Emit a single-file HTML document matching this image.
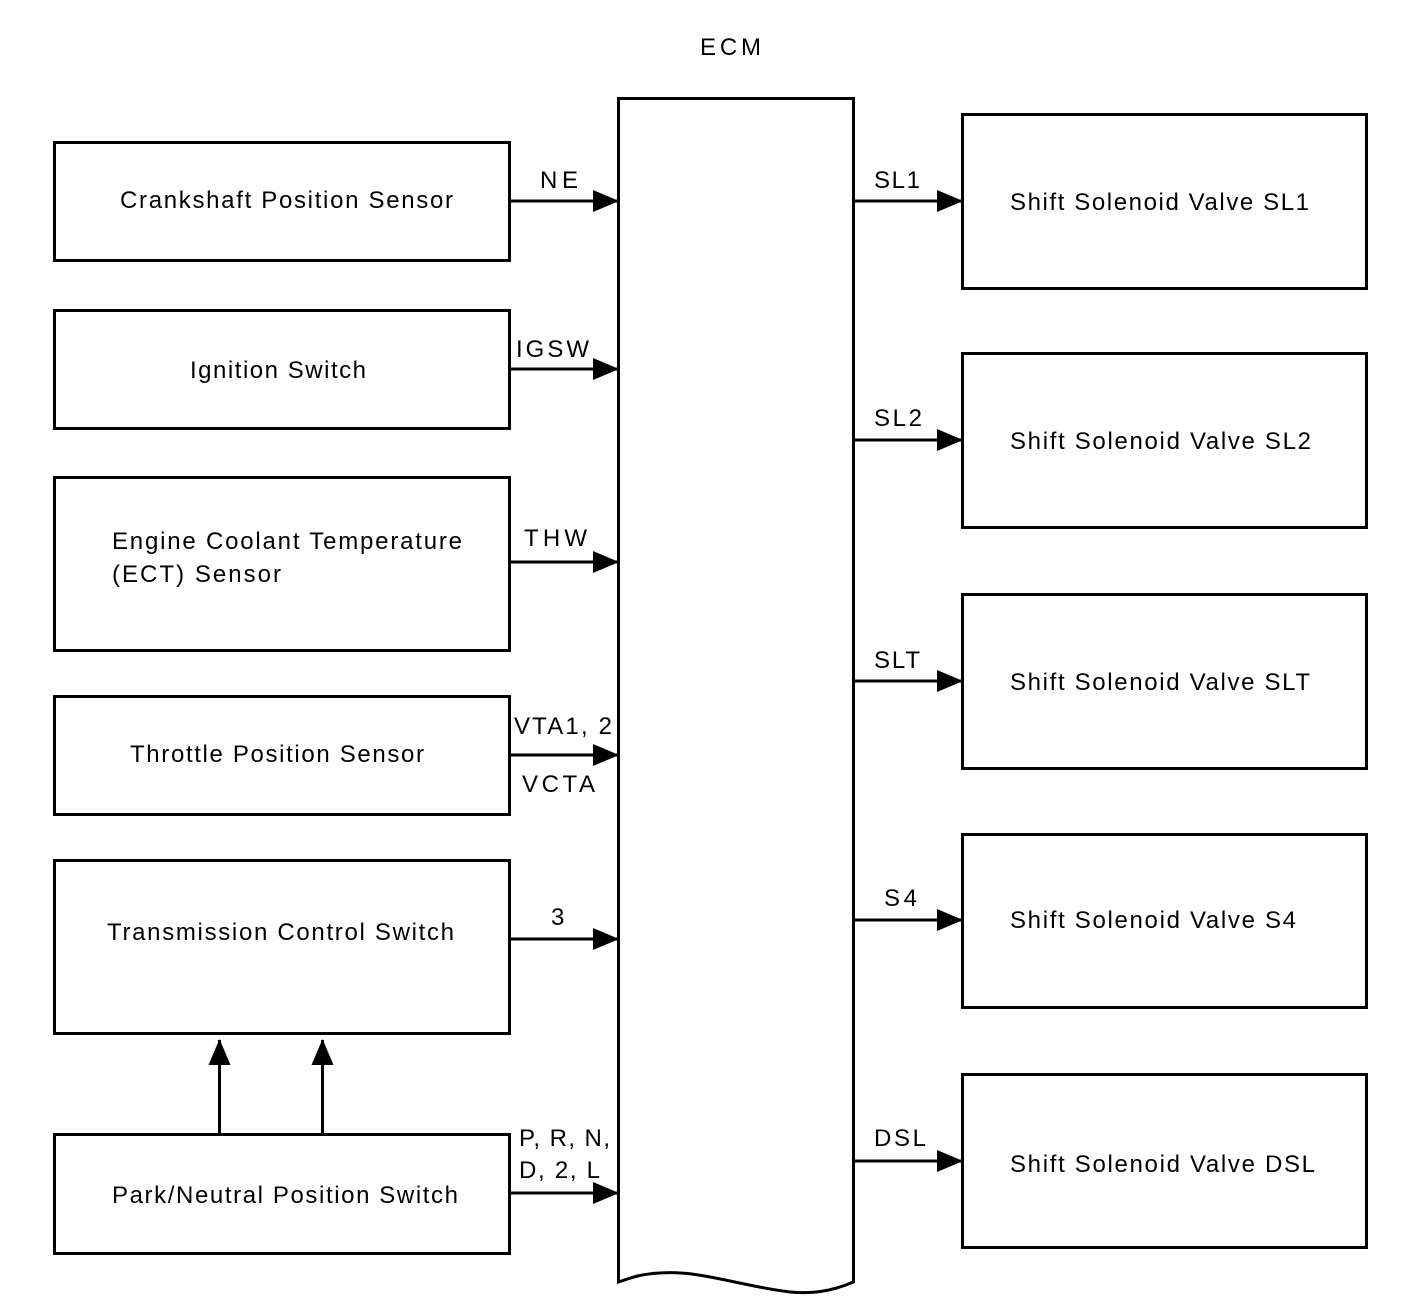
<!DOCTYPE html>
<html><head><meta charset="utf-8"><style>
html,body{margin:0;padding:0;background:#fff;}
svg{display:block;}
text{font-family:"Liberation Sans",Arial,sans-serif;font-size:24px;fill:#000;}
</style></head><body>
<svg width="1408" height="1300" viewBox="0 0 1408 1300" xmlns="http://www.w3.org/2000/svg">
<defs>
<marker id="a" markerWidth="26" markerHeight="22" refX="25" refY="11" orient="auto" markerUnits="userSpaceOnUse">
<path d="M0,0 L26,11 L0,22 Z" fill="#000"/>
</marker>
</defs>
<g fill="none" stroke="#000" stroke-width="3">
<path d="M618.5,98.5 L853.5,98.5 L853.5,1282 C830,1292 810,1294 790,1292 C740,1286 700,1270 660,1273 C640,1274 630,1278 618.5,1282 Z"/>
<rect x="54.5" y="142.5" width="455" height="118"/>
<rect x="54.5" y="310.5" width="455" height="118"/>
<rect x="54.5" y="477.5" width="455" height="173"/>
<rect x="54.5" y="696.5" width="455" height="118"/>
<rect x="54.5" y="860.5" width="455" height="173"/>
<rect x="54.5" y="1134.5" width="455" height="119"/>
<rect x="962.5" y="114.5" width="404" height="174"/>
<rect x="962.5" y="353.5" width="404" height="174"/>
<rect x="962.5" y="594.5" width="404" height="174"/>
<rect x="962.5" y="834.5" width="404" height="173"/>
<rect x="962.5" y="1074.5" width="404" height="173"/>
<line x1="509" y1="201" x2="618" y2="201" marker-end="url(#a)"/>
<line x1="509" y1="369" x2="618" y2="369" marker-end="url(#a)"/>
<line x1="509" y1="562" x2="618" y2="562" marker-end="url(#a)"/>
<line x1="509" y1="755" x2="618" y2="755" marker-end="url(#a)"/>
<line x1="509" y1="939" x2="618" y2="939" marker-end="url(#a)"/>
<line x1="509" y1="1193" x2="618" y2="1193" marker-end="url(#a)"/>
<line x1="853" y1="201" x2="962" y2="201" marker-end="url(#a)"/>
<line x1="853" y1="440" x2="962" y2="440" marker-end="url(#a)"/>
<line x1="853" y1="681" x2="962" y2="681" marker-end="url(#a)"/>
<line x1="853" y1="920" x2="962" y2="920" marker-end="url(#a)"/>
<line x1="853" y1="1161" x2="962" y2="1161" marker-end="url(#a)"/>
<line x1="219.5" y1="1134" x2="219.5" y2="1040" marker-end="url(#a)"/>
<line x1="322.5" y1="1134" x2="322.5" y2="1040" marker-end="url(#a)"/>
</g>
<g>
<text x="700" y="55" textLength="61" lengthAdjust="spacing">ECM</text>
<text x="120" y="208" textLength="333" lengthAdjust="spacing">Crankshaft Position Sensor</text>
<text x="190" y="378" textLength="176" lengthAdjust="spacing">Ignition Switch</text>
<text x="112" y="549" textLength="350" lengthAdjust="spacing">Engine Coolant Temperature</text>
<text x="112" y="582" textLength="169" lengthAdjust="spacing">(ECT) Sensor</text>
<text x="130" y="762" textLength="294" lengthAdjust="spacing">Throttle Position Sensor</text>
<text x="107" y="940" textLength="347" lengthAdjust="spacing">Transmission Control Switch</text>
<text x="112" y="1203" textLength="346" lengthAdjust="spacing">Park/Neutral Position Switch</text>
<text x="540" y="188" textLength="38" lengthAdjust="spacing">NE</text>
<text x="516" y="357" textLength="73" lengthAdjust="spacing">IGSW</text>
<text x="524" y="546" textLength="63" lengthAdjust="spacing">THW</text>
<text x="514" y="734" textLength="98" lengthAdjust="spacing">VTA1, 2</text>
<text x="522" y="792" textLength="73" lengthAdjust="spacing">VCTA</text>
<text x="551" y="925" textLength="14" lengthAdjust="spacing">3</text>
<text x="519" y="1146" textLength="91" lengthAdjust="spacing">P, R, N,</text>
<text x="519" y="1178" textLength="81" lengthAdjust="spacing">D, 2, L</text>
<text x="874" y="188" textLength="46" lengthAdjust="spacing">SL1</text>
<text x="874" y="426" textLength="48" lengthAdjust="spacing">SL2</text>
<text x="874" y="668" textLength="46" lengthAdjust="spacing">SLT</text>
<text x="884" y="906" textLength="33" lengthAdjust="spacing">S4</text>
<text x="874" y="1146" textLength="52" lengthAdjust="spacing">DSL</text>
<text x="1010" y="210" textLength="299" lengthAdjust="spacing">Shift Solenoid Valve SL1</text>
<text x="1010" y="449" textLength="301" lengthAdjust="spacing">Shift Solenoid Valve SL2</text>
<text x="1010" y="690" textLength="300" lengthAdjust="spacing">Shift Solenoid Valve SLT</text>
<text x="1010" y="928" textLength="286" lengthAdjust="spacing">Shift Solenoid Valve S4</text>
<text x="1010" y="1172" textLength="305" lengthAdjust="spacing">Shift Solenoid Valve DSL</text>
</g>
</svg>
</body></html>
